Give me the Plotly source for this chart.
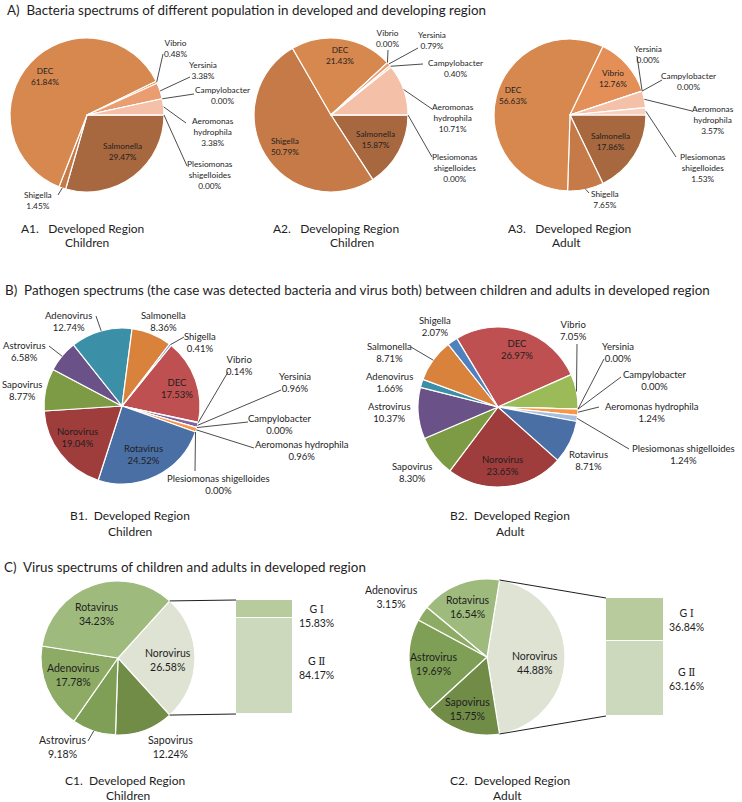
import math
import plotly.graph_objects as go

W, H = 742, 802
FONT = "Lato, 'Open Sans', sans-serif"
INK = "#1e1e1e"

# ---------------- data ----------------
bacteria = ["Salmonella", "Shigella", "DEC", "Vibrio", "Yersinia",
            "Campylobacter", "Aeromonas hydrophila", "Plesiomonas shigelloides"]
a1_values = [29.47, 1.45, 61.84, 0.48, 3.38, 0.00, 3.38, 0.00]
a2_values = [15.87, 50.79, 21.43, 0.00, 0.79, 0.40, 10.71, 0.00]
a3_values = [17.86, 7.65, 56.63, 12.76, 0.00, 0.00, 3.57, 1.53]

pathogens = ["DEC", "Vibrio", "Yersinia", "Campylobacter", "Aeromonas hydrophila",
             "Plesiomonas shigelloides", "Rotavirus", "Norovirus", "Sapovirus",
             "Astrovirus", "Adenovirus", "Salmonella", "Shigella"]
b1_values = [17.53, 0.14, 0.96, 0.00, 0.96, 0.00, 24.52, 19.04, 8.77, 6.58, 12.74, 8.36, 0.41]
b2_values = [26.97, 7.05, 0.00, 0.00, 1.24, 1.24, 8.71, 23.65, 8.30, 10.37, 1.66, 8.71, 2.07]

viruses = ["Norovirus", "Sapovirus", "Astrovirus", "Adenovirus", "Rotavirus"]
c1_values = [26.58, 12.24, 9.18, 17.78, 34.23]
c2_values = [44.88, 15.75, 19.69, 3.15, 16.54]

noro_types = ["G \u2160", "G \u2161"]
c1_noro = [15.83, 84.17]
c2_noro = [36.84, 63.16]

section_titles = [
    "A)  Bacteria spectrums of different population in developed and developing region",
    "B)  Pathogen spectrums (the case was detected bacteria and virus both) between children and adults in developed region",
    "C)  Virus spectrums of children and adults in developed region",
]
sub_a = [("A1.   Developed Region", "Children"), ("A2.   Developing Region", "Children"),
         ("A3.   Developed Region", "Adult")]
sub_b = [("B1.  Developed Region", "Children"), ("B2.  Developed Region", "Adult")]
sub_c = [("C1.  Developed Region", "Children"), ("C2.  Developed Region", "Adult")]

# ---------------- styles ----------------
col_a = {"Salmonella": "#A8683F", "Shigella": "#C57A47", "DEC": "#D6884F",
         "Vibrio": "#E48F57", "Yersinia": "#EB9D72", "Campylobacter": "#EFAE8A",
         "Aeromonas hydrophila": "#F4C0A8", "Plesiomonas shigelloides": "#F7D2C0"}
col_b = {"DEC": "#BE5052", "Vibrio": "#9BBB59", "Yersinia": "#8064A2",
         "Campylobacter": "#4BACC6", "Aeromonas hydrophila": "#F79646",
         "Plesiomonas shigelloides": "#A7BEDD", "Rotavirus": "#4A6FA5",
         "Norovirus": "#9E3D3B", "Sapovirus": "#7D9A45", "Astrovirus": "#6A5288",
         "Adenovirus": "#3B8FA6", "Salmonella": "#D9823B", "Shigella": "#4F81BD"}
col_c = {"Norovirus": "#DEE3D4", "Sapovirus": "#718C47", "Astrovirus": "#7F9E56",
         "Adenovirus": "#8DAB64", "Rotavirus": "#9EBB7D"}
col_noro = {"G \u2160": "#B8CB9D", "G \u2161": "#CDD9BD"}


def noro_rot(vals):
    return 90 - vals[0] / sum(vals) * 180


# pie geometry in pixels: centre x, centre y, radius, rotation
GEOM = {
    "a1": (87, 115, 77, 90), "a2": (331, 115, 77, 90), "a3": (570, 115, 76, 90),
    "b1": (122, 406, 78, 39), "b2": (498, 407, 80, -31),
    "c1": (118, 658, 77, noro_rot(c1_values)), "c2": (487, 657, 78, noro_rot(c2_values)),
}
BAR = {"c1": (236, 293, 600, 714), "c2": (606, 664, 598, 716)}

fig = go.Figure()
annotations, shapes = [], []


def px(x):
    return x / W


def py(y):
    return 1 - y / H


def add_pie(key, cats, vals, colors):
    cx, cy, r, rot = GEOM[key]
    fig.add_trace(go.Pie(
        labels=cats, values=vals, sort=False, direction="clockwise", rotation=rot,
        marker=dict(colors=[colors[c] for c in cats], line=dict(color="white", width=1.2)),
        textinfo="none", hoverinfo="label+value", showlegend=False,
        domain=dict(x=[px(cx - r), px(cx + r)], y=[py(cy + r), py(cy - r)]),
    ))


def edge_point(key, vals, i, frac=0.5):
    cx, cy, r, rot = GEOM[key]
    a = math.radians(rot + (sum(vals[:i]) + frac * vals[i]) / sum(vals) * 360)
    return cx + r * math.sin(a), cy - r * math.cos(a)


def text(x, y, s, size, anchor="center"):
    annotations.append(dict(x=px(x), y=py(y), xref="paper", yref="paper", text=s,
                            showarrow=False, xanchor=anchor, yanchor="middle", align="center",
                            font=dict(size=size, family=FONT, color=INK)))


def line(x0, y0, x1, y1, w=0.8):
    shapes.append(dict(type="line", xref="paper", yref="paper", x0=px(x0), y0=py(y0),
                       x1=px(x1), y1=py(y1), line=dict(color=INK, width=w)))


def labels(key, cats, vals, specs, size, wrap=None):
    for cat, (lx, ly, attach) in specs.items():
        i = cats.index(cat)
        name = (wrap or {}).get(cat, cat)
        text(lx, ly, f"{name}<br>{vals[i]:.2f}%", size)
        if attach:
            ex, ey = edge_point(key, vals, i)
            line(attach[0], attach[1], ex, ey)


# ---------------- A ----------------
wrap_a = {"Aeromonas hydrophila": "Aeromonas<br>hydrophila",
          "Plesiomonas shigelloides": "Plesiomonas<br>shigelloides"}
add_pie("a1", bacteria, a1_values, col_a)
add_pie("a2", bacteria, a2_values, col_a)
add_pie("a3", bacteria, a3_values, col_a)
SA = 8.3
labels("a1", bacteria, a1_values, {
    "DEC": (45, 77, None), "Salmonella": (122, 152, None),
    "Vibrio": (175, 48, (163, 54)), "Yersinia": (203, 70, (190, 77)),
    "Campylobacter": (222, 95, (194, 94)),
    "Aeromonas hydrophila": (213, 132, (186, 123)),
    "Plesiomonas shigelloides": (210, 175, (187, 166)),
    "Shigella": (38, 200, (58, 195)),
}, SA, wrap_a)
labels("a2", bacteria, a2_values, {
    "DEC": (340, 56, None), "Shigella": (285, 147, None), "Salmonella": (375, 139, None),
    "Vibrio": (387, 38, (388, 50)), "Yersinia": (432, 40, (418, 48)),
    "Campylobacter": (455, 68, (423, 64)),
    "Aeromonas hydrophila": (453, 118, (432, 109)),
    "Plesiomonas shigelloides": (455, 168, (432, 157)),
}, SA, wrap_a)
labels("a3", bacteria, a3_values, {
    "DEC": (513, 95, None), "Vibrio": (613, 78, None), "Salmonella": (610, 141, None),
    "Shigella": (605, 199, (589, 193)), "Yersinia": (648, 54, (637, 56)),
    "Campylobacter": (688, 82, (662, 80)),
    "Aeromonas hydrophila": (713, 120, (692, 111)),
    "Plesiomonas shigelloides": (703, 168, (676, 157)),
}, SA, wrap_a)

# ---------------- B ----------------
add_pie("b1", pathogens, b1_values, col_b)
add_pie("b2", pathogens, b2_values, col_b)
SB = 9.5
labels("b1", pathogens, b1_values, {
    "DEC": (177, 388, None), "Rotavirus": (143, 454, None), "Norovirus": (77, 437, None),
    "Sapovirus": (22, 390, None), "Astrovirus": (24, 351, (49, 346)),
    "Adenovirus": (68, 321, (96, 316)), "Salmonella": (163, 321, None),
    "Shigella": (200, 343, (184, 337)), "Vibrio": (240, 365, (228, 372)),
    "Yersinia": (295, 383, (281, 390)), "Campylobacter": (280, 424, (248, 422)),
    "Aeromonas hydrophila": (302, 450, (254, 448)),
    "Plesiomonas shigelloides": (218, 484, (195, 471)),
}, SB)
labels("b2", pathogens, b2_values, {
    "DEC": (517, 349, None), "Norovirus": (502, 465, None), "Rotavirus": (588, 460, None),
    "Sapovirus": (412, 472, None), "Astrovirus": (390, 413, None),
    "Adenovirus": (389, 383, None), "Salmonella": (389, 353, (411, 347)),
    "Shigella": (435, 326, None), "Vibrio": (573, 330, (577, 344)),
    "Yersinia": (618, 352, (604, 359)), "Campylobacter": (655, 380, (621, 377)),
    "Aeromonas hydrophila": (652, 413, (599, 407)),
    "Plesiomonas shigelloides": (683, 454, (629, 449)),
}, SB)

# ---------------- C ----------------
add_pie("c1", viruses, c1_values, col_c)
add_pie("c2", viruses, c2_values, col_c)
SC = 10.5
labels("c1", viruses, c1_values, {
    "Rotavirus": (97, 614, None), "Norovirus": (168, 660, None),
    "Adenovirus": (73, 675, None), "Astrovirus": (62, 747, (88, 741)),
    "Sapovirus": (170, 747, None),
}, SC)
labels("c2", viruses, c2_values, {
    "Adenovirus": (391, 597, None), "Rotavirus": (468, 607, None),
    "Astrovirus": (433, 664, None), "Norovirus": (535, 663, None),
    "Sapovirus": (467, 709, None),
}, SC)

bar_label_pos = {"c1": [(316, 616), (316, 668)], "c2": [(686, 620), (686, 679)]}
for n, (key, nvals, vvals) in enumerate([("c1", c1_noro, c1_values), ("c2", c2_noro, c2_values)]):
    x0, x1, y0, y1 = BAR[key]
    xa, ya = ("x", "y") if n == 0 else ("x2", "y2")
    for cat, v in reversed(list(zip(noro_types, nvals))):
        fig.add_trace(go.Bar(x=[0], y=[v], width=1, xaxis=xa, yaxis=ya, name=cat,
                             marker=dict(color=col_noro[cat], line=dict(color="white", width=1)),
                             showlegend=False, hoverinfo="name+y"))
    axx = dict(domain=[px(x0), px(x1)], range=[-0.5, 0.5], visible=False, fixedrange=True)
    axy = dict(domain=[py(y1), py(y0)], range=[0, 100], visible=False, fixedrange=True)
    if n == 0:
        fig.update_layout(xaxis=axx, yaxis=dict(axy, anchor="x"))
    else:
        fig.update_layout(xaxis2=dict(axx, anchor="y2"), yaxis2=dict(axy, anchor="x2"))
    for (lx, ly), cat, v in zip(bar_label_pos[key], noro_types, nvals):
        g, roman = cat.split(" ")
        s = f"{g} <span style='font-family:DejaVu Serif'>{roman}</span><br>{v:.2f}%"
        text(lx, ly, s, SC)
    # connector lines from the split slice to the bar
    tx, ty = edge_point(key, vvals, 0, 0.0)
    bx, by = edge_point(key, vvals, 0, 1.0)
    line(tx, ty, x0, y0, 1)
    line(bx, by, x0, y1, 1)

# ---------------- titles ----------------
ST = 13.4
text(5, 10, section_titles[0], ST, "left")
text(3, 290, section_titles[1], ST, "left")
text(2, 567, section_titles[2], ST, "left")
SS = 12
for (l1, l2), (x1_, x2_) in zip(sub_a, [(82, 87), (336, 352), (569, 566)]):
    text(x1_, 228, l1, SS)
    text(x2_, 243, l2, SS)
for (l1, l2), (x1_, x2_) in zip(sub_b, [(130, 130), (510, 510)]):
    text(x1_, 515, l1, SS)
    text(x2_, 531, l2, SS)
for (l1, l2), (x1_, x2_) in zip(sub_c, [(125, 128), (510, 507)]):
    text(x1_, 780, l1, SS)
    text(x2_, 795, l2, SS)

fig.update_layout(
    width=W, height=H, autosize=False,
    margin=dict(l=0, r=0, t=0, b=0, pad=0),
    paper_bgcolor="white", plot_bgcolor="white",
    barmode="stack", bargap=0, showlegend=False,
    annotations=annotations, shapes=shapes,
    font=dict(family=FONT, color=INK),
)

fig.write_html("out.html", config={"displayModeBar": False},
               post_script="document.body.style.margin='0px';")
